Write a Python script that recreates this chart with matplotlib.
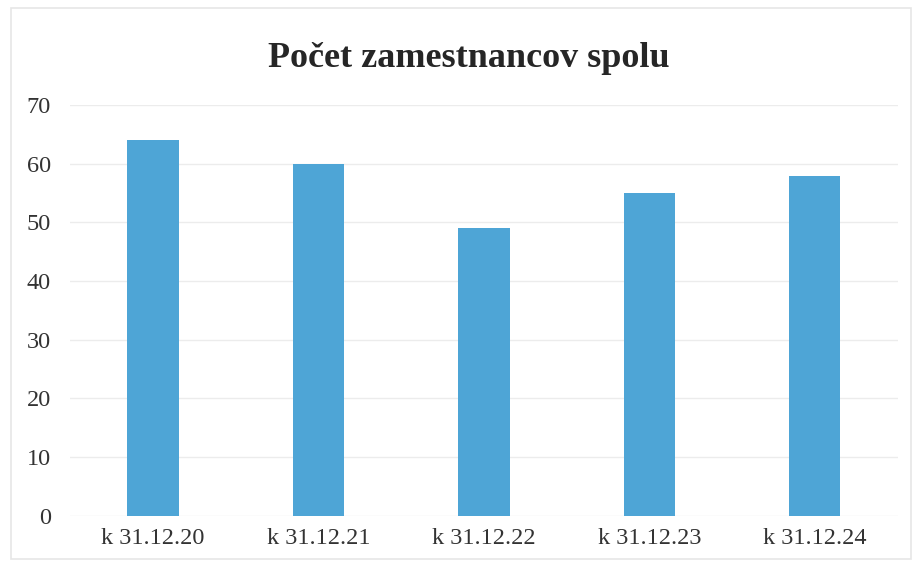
import matplotlib
matplotlib.use('Agg')
import matplotlib.pyplot as plt
from matplotlib.patches import Rectangle

# data
categories = ['k 31.12.20', 'k 31.12.21', 'k 31.12.22', 'k 31.12.23', 'k 31.12.24']
values = [64, 60, 49, 55, 58]
yticks = [0, 10, 20, 30, 40, 50, 60, 70]

plt.rcParams['font.family'] = ['Liberation Serif', 'DejaVu Serif']

fig = plt.figure(figsize=(9.14, 5.65), dpi=100)
ax = fig.add_axes([0.077, 0.087, 0.905, 0.727])

ax.bar(range(len(categories)), values, width=0.31, color='#4ea5d6', zorder=3)

ax.set_xlim(-0.5, len(categories) - 0.5)
ax.set_ylim(0, 70)
ax.set_yticks(yticks)
ax.set_xticks(range(len(categories)))
ax.set_xticklabels(categories)
ax.tick_params(axis='both', length=0, labelsize=17.5, colors='#333333')
ax.tick_params(axis='x', pad=9)
ax.tick_params(axis='y', pad=14)

ax.grid(axis='y', color='#ececec', linewidth=1, zorder=0)
for s in ax.spines.values():
    s.set_visible(False)

fig.text(0.513, 0.897, 'Počet zamestnancov spolu', ha='center', va='center',
         fontsize=26, fontweight='bold', color='#262626')

# faint outer frame of the chart
fig.patches.append(Rectangle((0.012, 0.01), 0.985, 0.975, transform=fig.transFigure,
                             fill=False, edgecolor='#e6e6e6', linewidth=1.2))

fig.savefig('out.png', dpi=100)
